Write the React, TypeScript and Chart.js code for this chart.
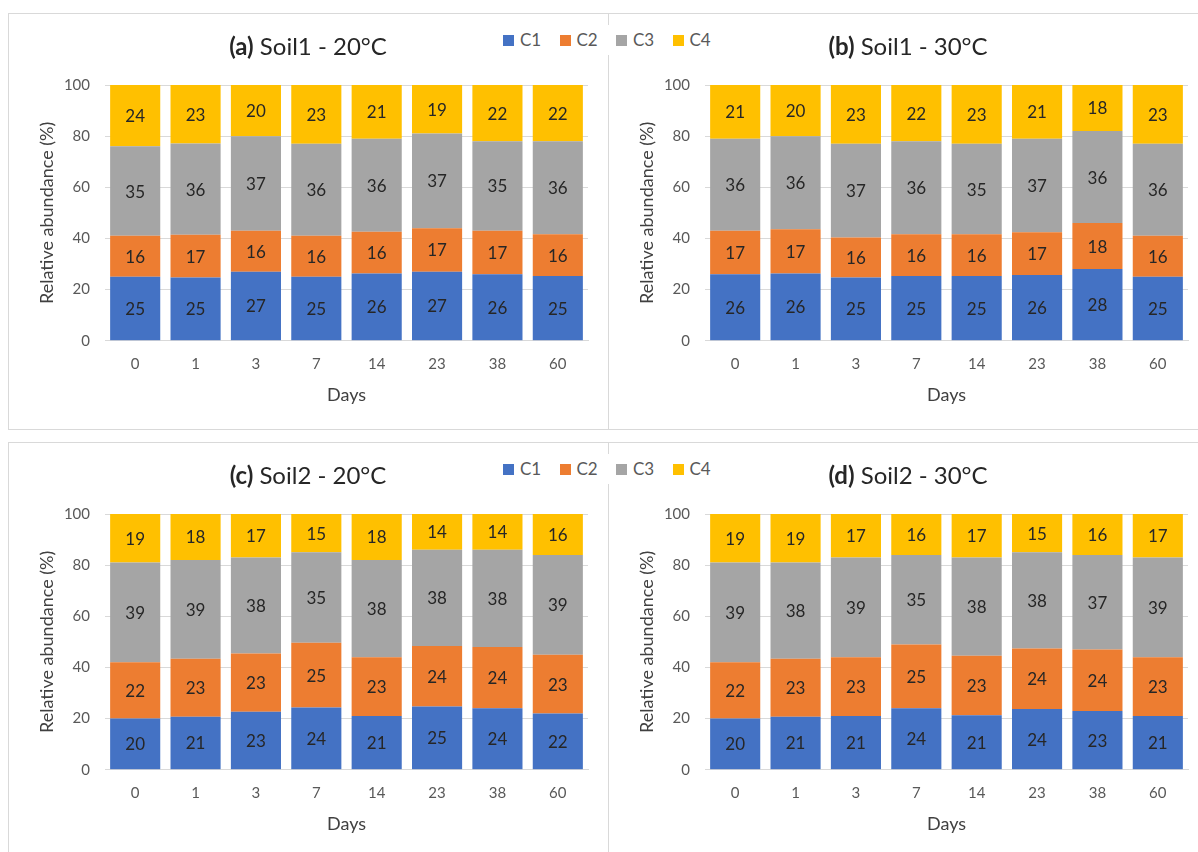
import React, { useEffect, useRef } from "react";
import { Chart, registerables } from "chart.js";

Chart.register(...registerables);

const FONT = "Lato, 'Open Sans', 'Noto Sans', sans-serif";

// ---- data ----
const days = ["0", "1", "3", "7", "14", "23", "38", "60"];
const seriesNames = ["C1", "C2", "C3", "C4"];
const seriesColors = ["#4472C4", "#ED7D31", "#A5A5A5", "#FFC000"];
const yAxisTitle = "Relative abundance (%)";
const xAxisTitle = "Days";

// (a) Soil1 - 20°C
const soil1T20C1 = [25, 24.7, 27, 25, 26.3, 27, 26, 25.3];
const soil1T20C2 = [16, 16.7, 16, 16, 16.3, 17, 17, 16.3];
const soil1T20C3 = [35, 35.7, 37, 36, 36.4, 37, 35, 36.4];
const soil1T20C4 = [24, 22.9, 20, 23, 21, 19, 22, 22];

// (b) Soil1 - 30°C
const soil1T30C1 = [26, 26.3, 24.7, 25.3, 25.3, 25.7, 28, 25];
const soil1T30C2 = [17, 17.3, 15.7, 16.3, 16.3, 16.7, 18, 16];
const soil1T30C3 = [36, 36.4, 36.6, 36.4, 35.4, 36.6, 36, 36];
const soil1T30C4 = [21, 20, 23, 22, 23, 21, 18, 23];

// (c) Soil2 - 20°C
const soil2T20C1 = [20, 20.7, 22.7, 24.3, 21, 24.7, 24, 22];
const soil2T20C2 = [22, 22.7, 22.7, 25.3, 23, 23.7, 24, 23];
const soil2T20C3 = [39, 38.6, 37.6, 35.4, 38, 37.6, 38, 39];
const soil2T20C4 = [19, 18, 17, 15, 18, 14, 14, 16];

// (d) Soil2 - 30°C
const soil2T30C1 = [20, 20.7, 21, 24, 21.3, 23.7, 23, 21];
const soil2T30C2 = [22, 22.7, 23, 25, 23.3, 23.7, 24, 23];
const soil2T30C3 = [39, 37.6, 39, 35, 38.4, 37.6, 37, 39];
const soil2T30C4 = [19, 19, 17, 16, 17, 15, 16, 17];

const panels = [
  { tag: "(a)", title: " Soil1 - 20°C", series: [soil1T20C1, soil1T20C2, soil1T20C3, soil1T20C4], left: 8, top: 13 },
  { tag: "(b)", title: " Soil1 - 30°C", series: [soil1T30C1, soil1T30C2, soil1T30C3, soil1T30C4], left: 608, top: 13 },
  { tag: "(c)", title: " Soil2 - 20°C", series: [soil2T20C1, soil2T20C2, soil2T20C3, soil2T20C4], left: 8, top: 442 },
  { tag: "(d)", title: " Soil2 - 30°C", series: [soil2T30C1, soil2T30C2, soil2T30C3, soil2T30C4], left: 608, top: 442 },
];

const PANEL_W = 600;
const PANEL_H = 417;

const titlePlugin = {
  id: "panelTitle",
  afterDraw(chart: any, _args: any, opts: any) {
    const ctx = chart.ctx;
    ctx.save();
    ctx.textBaseline = "middle";
    ctx.fillStyle = opts.color;
    ctx.font = `bold ${opts.size}px ${FONT}`;
    const w1 = ctx.measureText(opts.tag).width;
    ctx.font = `${opts.size}px ${FONT}`;
    const w2 = ctx.measureText(opts.text).width;
    const x0 = opts.cx - (w1 + w2) / 2;
    ctx.textAlign = "left";
    ctx.font = `bold ${opts.size}px ${FONT}`;
    ctx.fillText(opts.tag, x0, opts.cy);
    ctx.font = `${opts.size}px ${FONT}`;
    ctx.fillText(opts.text, x0 + w1, opts.cy);
    ctx.restore();
  },
};

const labelPlugin = {
  id: "segLabels",
  afterDatasetsDraw(chart: any) {
    const ctx = chart.ctx;
    ctx.save();
    ctx.font = `17px ${FONT}`;
    ctx.fillStyle = "#262626";
    ctx.textAlign = "center";
    ctx.textBaseline = "middle";
    chart.data.datasets.forEach((ds: any, i: number) => {
      const meta = chart.getDatasetMeta(i);
      meta.data.forEach((el: any, j: number) => {
        const p = el.getProps(["x", "y", "base"], true);
        const v = ds.data[j];
        ctx.fillText(String(Math.round(v)), p.x, (p.y + p.base) / 2 + 1);
      });
    });
    ctx.restore();
  },
};

function Panel({ cfg }: { cfg: any }) {
  const ref = useRef<HTMLCanvasElement>(null);
  useEffect(() => {
    if (!ref.current) return;
    const chart = new Chart(ref.current, {
      type: "bar",
      data: {
        labels: days,
        datasets: cfg.series.map((d: number[], i: number) => ({
          label: seriesNames[i],
          data: d,
          backgroundColor: seriesColors[i],
          borderWidth: 0,
          barPercentage: 0.83,
          categoryPercentage: 1,
        })),
      },
      options: {
        animation: false,
        responsive: false,
        layout: { padding: { top: 72, right: 20, left: 0, bottom: 0 } },
        plugins: {
          legend: { display: false },
          tooltip: { enabled: false },
          title: { display: false },
          panelTitle: { tag: cfg.tag, text: cfg.title, cx: 300, cy: 34, size: 24, color: "#262626" },
        } as any,
        scales: {
          x: {
            stacked: true,
            grid: { display: false, drawTicks: false },
            border: { display: true, color: "#D9D9D9", width: 1 },
            ticks: { color: "#595959", font: { family: FONT, size: 15 }, padding: 14 },
            title: {
              display: true,
              text: xAxisTitle,
              color: "#404040",
              font: { family: FONT, size: 18 },
              padding: { top: 0, bottom: 24 },
            },
            afterFit: (s: any) => {
              s.height = 89.3;
            },
          },
          y: {
            stacked: true,
            min: 0,
            max: 100,
            grid: { color: "#D9D9D9", drawTicks: false },
            border: { display: false },
            ticks: { stepSize: 20, color: "#595959", font: { family: FONT, size: 15 }, padding: 15 },
            title: {
              display: true,
              text: yAxisTitle,
              color: "#404040",
              font: { family: FONT, size: 18 },
              padding: { top: 28, bottom: 0 },
            },
            afterFit: (s: any) => {
              s.width = 97;
            },
          },
        },
      },
      plugins: [titlePlugin, labelPlugin],
    } as any);
    return () => chart.destroy();
  }, [cfg]);
  return (
    <>
      <canvas
        ref={ref}
        width={PANEL_W}
        height={PANEL_H}
        style={{ position: "absolute", left: cfg.left, top: cfg.top, width: PANEL_W, height: PANEL_H }}
      />
      <div
        style={{
          position: "absolute",
          left: cfg.left,
          top: cfg.top,
          width: PANEL_W + 1,
          height: PANEL_H,
          border: "1px solid #D9D9D9",
          boxSizing: "border-box",
          pointerEvents: "none",
        }}
      />
    </>
  );
}

function Legend({ cy }: { cy: number }) {
  const x0 = 503;
  const pitch = 56.5;
  return (
    <>
      <div style={{ position: "absolute", left: 494, top: cy - 15, width: 228, height: 30, background: "#fff" }} />
      {seriesNames.map((n, i) => (
        <React.Fragment key={n}>
          <div
            style={{
              position: "absolute",
              left: x0 + i * pitch,
              top: cy - 5,
              width: 11,
              height: 11,
              background: seriesColors[i],
            }}
          />
          <div
            style={{
              position: "absolute",
              left: x0 + i * pitch + 17,
              top: cy - 10,
              height: 20,
              lineHeight: "20px",
              fontFamily: FONT,
              fontSize: 17,
              color: "#595959",
              whiteSpace: "nowrap",
            }}
          >
            {n}
          </div>
        </React.Fragment>
      ))}
    </>
  );
}

export default function App() {
  return (
    <div
      style={{
        position: "fixed",
        left: 0,
        top: 0,
        width: 1198,
        height: 852,
        overflow: "hidden",
        background: "#fff",
      }}
    >
      {panels.map((p) => (
        <Panel key={p.tag} cfg={p} />
      ))}
      <Legend cy={40} />
      <Legend cy={469} />
    </div>
  );
}
